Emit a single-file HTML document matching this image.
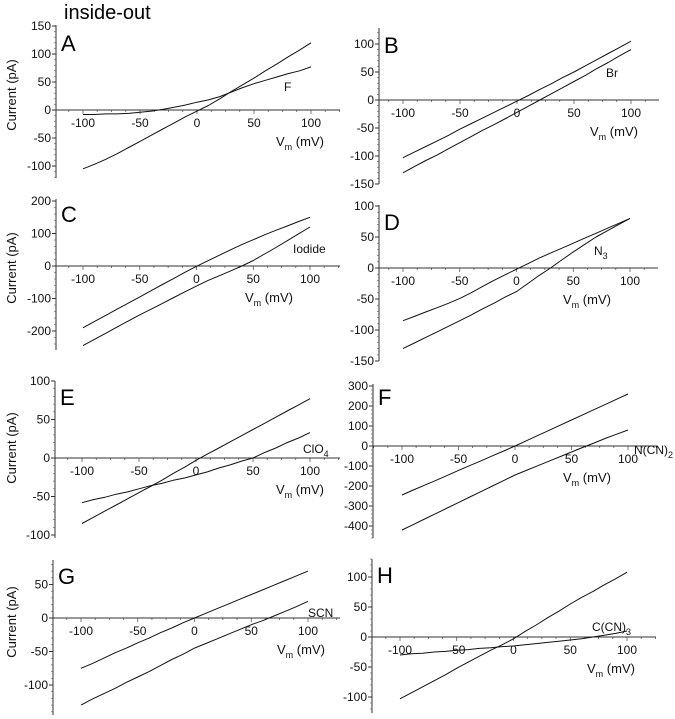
<!DOCTYPE html>
<html><head><meta charset="utf-8">
<style>
html,body{margin:0;padding:0;background:#fff;}
svg{display:block;font-family:"Liberation Sans",Arial,sans-serif;}
</style></head>
<body>
<svg id="fig" width="675" height="719" viewBox="0 0 675 719" xmlns="http://www.w3.org/2000/svg">
<text x="64" y="19" font-size="20">inside-out</text>
</svg>
<script>
const volts = [-100,-90,-80,-70,-60,-50,-40,-30,-20,-10,0,10,20,30,40,50,60,70,80,90,100];
const xTicks = [-100,-50,0,50,100];
// Panel A
const aCtrl = [-105,-97,-88,-78,-67,-56,-45,-34,-23,-12,-2,8,20,33,45,57,70,82,95,107,120];
const aF = [-8,-8,-7,-7,-6,-4,-2,1,5,9,14,18,24,32,40,47,53,59,65,70,77];
const aTicks = [150,100,50,0,-50,-100];
// Panel B
const bCtrl = [-103,-93,-83,-73,-63,-52,-42,-32,-22,-12,-2,8,19,29,40,50,61,72,83,94,105];
const bBr = [-130,-119,-108,-98,-87,-76,-65,-54,-44,-33,-22,-11,0,11,22,33,44,56,67,79,90];
const bTicks = [100,50,0,-50,-100,-150];
// Panel C
const cCtrl = [-190,-171,-152,-133,-114,-95,-76,-57,-38,-19,-1,16,33,50,66,81,96,110,123,137,150];
const cIodide = [-245,-226,-207,-188,-169,-150,-133,-115,-97,-79,-62,-45,-30,-15,0,17,37,57,78,99,120];
const cTicks = [200,100,0,-100,-200];
// Panel D
const dCtrl = [-85,-78,-71,-64,-57,-49,-40,-30,-20,-11,-2,7,16,24,32,40,48,56,64,72,80];
const dN3 = [-130,-121,-112,-103,-94,-85,-76,-66,-57,-47,-38,-25,-12,0,13,26,38,50,60,70,80];
const dTicks = [100,50,0,-50,-100,-150];
// Panel E
const eCtrl = [-85,-77,-69,-61,-53,-45,-37,-29,-20,-12,-3,5,13,21,29,37,45,53,61,69,77];
const eClO4 = [-58,-54,-51,-47,-44,-40,-36,-33,-29,-26,-22,-18,-13,-9,-4,0,7,13,20,26,33];
const eTicks = [100,50,0,-50,-100];
// Panel F
const fCtrl = [-245,-220,-196,-172,-147,-122,-98,-74,-49,-25,0,26,52,78,104,130,156,182,208,234,260];
const fNCN2 = [-420,-393,-365,-338,-310,-283,-255,-228,-200,-173,-145,-122,-99,-76,-53,-30,-7,15,38,59,80];
const fTicks = [300,200,100,0,-100,-200,-300,-400];
// Panel G
const gCtrl = [-75,-68,-60,-52,-45,-37,-30,-22,-15,-7,0,7,14,21,28,35,42,49,56,63,70];
const gSCN = [-130,-121,-113,-105,-96,-88,-80,-71,-62,-54,-45,-38,-31,-24,-17,-10,-4,3,10,17,25];
const gTicks = [50,0,-50,-100];
// Panel H
const hCtrl = [-103,-93,-83,-73,-63,-52,-42,-32,-22,-13,-3,9,20,32,43,55,66,76,87,97,108];
const hCCN3 = [-30,-28,-27,-25,-24,-22,-21,-19,-18,-16,-15,-13,-11,-9,-7,-5,-3,0,3,6,10];
const hTicks = [100,50,0,-50,-100];
</script>
<script>
const NS = "http://www.w3.org/2000/svg";
const svg = document.getElementById('fig');
function mk(tag, attrs, parent, text){
  const e = document.createElementNS(NS, tag);
  for (const k in attrs) e.setAttribute(k, attrs[k]);
  if (text !== undefined) e.textContent = text;
  (parent || svg).appendChild(e);
  return e;
}
function panel(p){
  const g = mk('g', {});
  
  
  const X = v => p.xm + (v + 100) * (p.xp - p.xm) / 200;
  const Y = c => p.y0 - c * p.s;
  const ya = mk('line', {x1:p.ax, y1:p.top, x2:p.ax, y2:p.bot, stroke:'#333', 'stroke-width':1}, g);
  
  
  const step = p.ticks[0] - p.ticks[1];
  for (let c = p.ticks[p.ticks.length-1] - step; c <= p.ticks[0] + step; c += step/5){
    const yy = Y(c);
    if (yy < p.top || yy > p.bot) continue;
    mk('line', {x1:p.ax-2, y1:yy, x2:p.ax, y2:yy, stroke:'#555', 'stroke-width':0.6}, g);
  }
  p.ticks.forEach(t => {
    const yy = Y(t);
    mk('line', {x1:p.ax-4, y1:yy, x2:p.ax, y2:yy, stroke:'#333', 'stroke-width':1}, g);
    const lb = mk('text', {x:p.ax-5, y:yy+4, 'font-size':12, 'text-anchor':'end', fill:'#111'}, g, String(t));
    
    
  });
  const xa = mk('line', {x1:p.ax, y1:p.y0, x2:p.xr, y2:p.y0, stroke:'#333', 'stroke-width':1}, g);
  
  
  for (let v = -125; v <= 125; v += 12.5){
    const xx = X(v);
    if (xx < p.ax || xx > p.xr) continue;
    mk('line', {x1:xx, y1:p.y0, x2:xx, y2:p.y0 + (v % 50 === 0 ? 4 : 2), stroke:'#444', 'stroke-width':0.7}, g);
  }
  xTicks.forEach(t => {
    const lb = mk('text', {x:X(t), y:p.y0+17, 'font-size':12, 'text-anchor':'middle', fill:'#111'}, g, String(t));
    
    
  });
  p.series.forEach((arr, i) => {
    const pts = volts.map((v, k) => X(v).toFixed(1) + ',' + Y(arr[k]).toFixed(1)).join(' ');
    const pl = mk('polyline', {points:pts, fill:'none', stroke:'#111', 'stroke-width':1, 'stroke-linejoin':'round'}, g);
    
    
  });
  const L = mk('text', {x:p.ax+5, y:p.ly, 'font-size':22, fill:'#000'}, g, p.letter);
  
  
  const al = mk('text', {x:p.alx, y:p.aly, 'font-size':12, fill:'#111'}, g);
  
  
  mk('tspan', {}, al, p.an);
  if (p.sub){ mk('tspan', {'font-size':9, dy:4}, al, p.sub); }
  const vm = mk('text', {x:p.vx, y:p.y0+36, 'font-size':13, fill:'#111'}, g);
  
  
  mk('tspan', {}, vm, 'V');
  mk('tspan', {'font-size':9, dy:4}, vm, 'm');
  mk('tspan', {dy:-4}, vm, ' (mV)');
  if (p.left){
    const yt = mk('text', {x:0, y:0, 'font-size':13, 'text-anchor':'middle', fill:'#111', transform:'translate(16,'+p.cy+') rotate(-90)'}, g, 'Current (pA)');
    
    
  }
}
panel({letter:'A', ax:56, y0:110, s:0.56, xm:83, xp:311, xr:340, top:25, bot:178, ticks:aTicks, series:[aCtrl,aF], ly:51, alx:284, aly:91, an:'F', vx:276, left:true, cy:95});
panel({letter:'B', ax:379, y0:100, s:0.56, xm:403, xp:631, xr:659, top:28, bot:184, ticks:bTicks, series:[bCtrl,bBr], ly:53, alx:606, aly:77, an:'Br', vx:590, left:false});
panel({letter:'C', ax:56, y0:266, s:0.325, xm:83, xp:310, xr:340, top:199, bot:350, ticks:cTicks, series:[cCtrl,cIodide], ly:222, alx:293, aly:253, an:'Iodide', vx:245, left:true, cy:268});
panel({letter:'D', ax:379, y0:268, s:0.62, xm:403, xp:630, xr:658, top:205, bot:361, ticks:dTicks, series:[dCtrl,dN3], ly:230, alx:594, aly:255, an:'N', sub:'3', vx:563, left:false});
panel({letter:'E', ax:55, y0:458, s:0.77, xm:82, xp:310, xr:340, top:381, bot:538, ticks:eTicks, series:[eCtrl,eClO4], ly:405, alx:303, aly:453, an:'ClO', sub:'4', vx:276, left:true, cy:448});
panel({letter:'F', ax:373, y0:446, s:0.2, xm:402, xp:628, xr:657, top:384, bot:538, ticks:fTicks, series:[fCtrl,fNCN2], ly:405, alx:634, aly:454, an:'N(CN)', sub:'2', vx:563, left:false});
panel({letter:'G', ax:53, y0:618, s:0.67, xm:81, xp:308, xr:340, top:560, bot:715, ticks:gTicks, series:[gCtrl,gSCN], ly:584, alx:308, aly:617, an:'SCN', vx:277, left:true, cy:622});
panel({letter:'H', ax:372, y0:637, s:0.6, xm:400, xp:627, xr:656, top:559, bot:713, ticks:hTicks, series:[hCtrl,hCCN3], ly:583, alx:592, aly:631, an:'C(CN)', sub:'3', vx:587, left:false});
</script>
</body></html>
